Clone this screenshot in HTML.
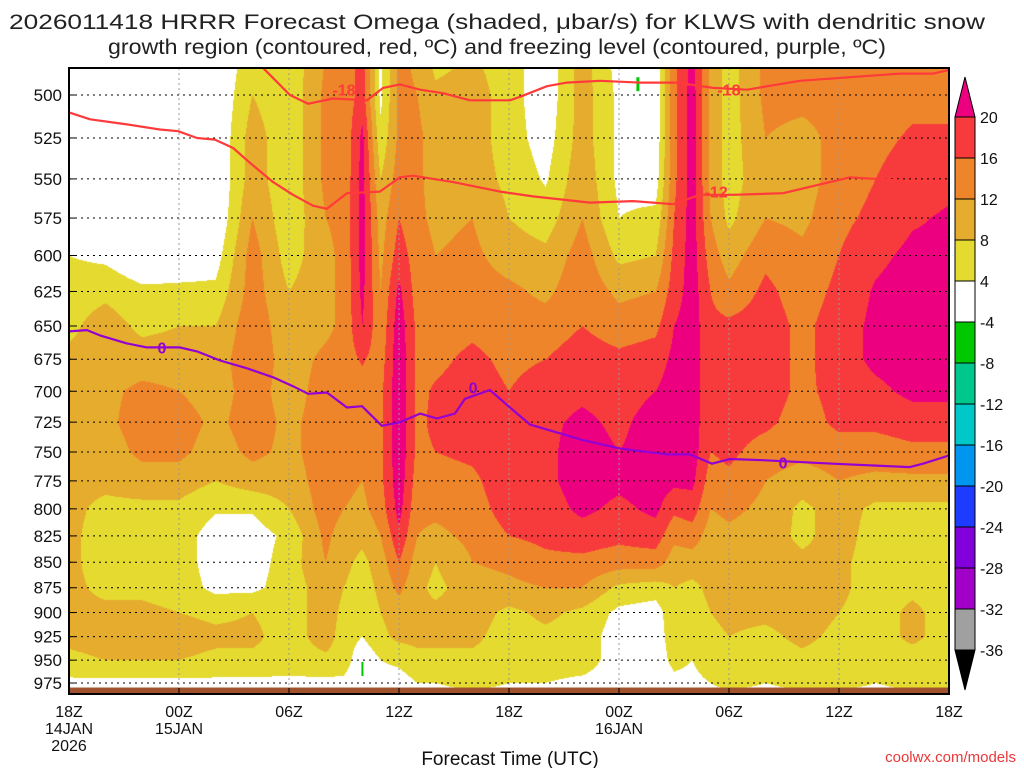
<!DOCTYPE html>
<html><head><meta charset="utf-8">
<style>
html,body{margin:0;padding:0;background:#fff;}
#wrap{position:relative;width:1024px;height:768px;overflow:hidden;font-family:"Liberation Sans",sans-serif;}
#hm{position:absolute;left:69px;top:68px;}
#ov{position:absolute;left:0;top:0;}
</style></head>
<body>
<div id="wrap">
<canvas id="hm" width="880" height="626"></canvas>
<svg id="ov" width="1024" height="768" xmlns="http://www.w3.org/2000/svg">
<g id="title" font-family="Liberation Sans, sans-serif" font-size="21" fill="#222" text-anchor="middle">
<text x="497" y="29" textLength="976" lengthAdjust="spacingAndGlyphs">2026011418 HRRR Forecast Omega (shaded, μbar/s) for KLWS with dendritic snow</text>
<text x="497" y="54" textLength="778" lengthAdjust="spacingAndGlyphs">growth region (contoured, red, ºC) and freezing level (contoured, purple, ºC)</text>
</g>
<g id="grid"></g>
<g id="lines"></g>
<g id="axes"></g>
<g id="cbar"></g>
<text x="510" y="765" font-size="19" text-anchor="middle" fill="#111">Forecast Time (UTC)</text>
<text x="1016" y="762" font-size="15" text-anchor="end" fill="#e8383a">coolwx.com/models</text>
</svg>
</div>
<script>
// ---- data ----
const times = [0,2,4,6,8,10,12,14,15,16,17,18,19,20,22,24,26,28,30,32,33,34,35,36,38,40,42,44,46,48];
const pressures = [475,500,525,550,575,600,625,650,675,700,725,750,775,800,825,850,875,900,925,950,975,1000];
const yTickLabels = [500,525,550,575,600,625,650,675,700,725,750,775,800,825,850,875,900,925,950,975];
const xTickHours = [0,6,12,18,24,30,36,42,48];
const xTickLabels = [["18Z","14JAN","2026"],["00Z","15JAN"],["06Z"],["12Z"],["18Z"],["00Z","16JAN"],["06Z"],["12Z"],["18Z"]];
const cbarLabels = [20,16,12,8,4,-4,-8,-12,-16,-20,-24,-28,-32,-36];
const surfacePressure = 980;
// omega (µbar/s) per time column, top (475) to bottom (1000)
const omega = [
/*0 */[0,0,0,0,0,4,6,7,9,9,9,9,9,9,9,9,9,9,9,7,3,2],
/*2 */[0,0,0,0,0,3,7,10,10,11,11,10,9,7,6,6,7,9,10,8,3,2],
/*4 */[0,0,0,0,0,0,5,7,10,13,14,13,10,7,6,6,7,9,10,8,3,2],
/*6 */[0,0,0,0,0,1,5,8,10,12,14,13,10,7,6,6,6,8,10,8,3,2],
/*8 */[0,0,0,0,0,2,5,8,10,10,11,10,8,4.5,2,2,3,7,9,7,3,2],
/*10*/[6,8,10,10,12,14,14,15,15,14,14,13,10,4.5,2,2,3,8,9,7,3,2],
/*12*/[5,5,5,5,5,6,8,9,10,10,11,11,10,8,5,6,6,6,6,6,3,2],
/*14*/[12,13,13,13,12,11,11,11,13,14,14,14,14,14,13,12,10,10,10,7,3,2],
/*15*/[13,13,13,13,13,13,13,13,14,14,14,14,13,12,10,9,8,7,6,6,3,2],
/*16*/[18,18,21,21.5,21.5,21.5,21,20,16.5,14,13,13,12,11,9,7,6,5,4,1,1,2],
/*17*/[3,3,5,8,10,11,12,13,14,15,15,15,15,14,12,10,9,8,7,4,2,2],
/*18*/[13,13,13,14,16,18,21,22.5,23,23,23,23,22.5,21.5,19,16,13,10,9,5,2,2],
/*19*/[11,12,13,13,13,14,14,15,15,15,15,15,14,13,12,10,9,9,9,7,4,2],
/*20*/[6,9,10,10,11,12,13,14,15,16.5,17,16,14,13,11,8,7,9,9,7,4,2],
/*22*/[8,10,10,10,12,13,14,15,17,18,18,17,15,14,13,12,10,10,9,7,5,2],
/*24*/[6,6,6,7,8,10,13,14,15,16,18,19,19,18,16,13,11,7,6,6,4,2],
/*26*/[1,1,2,3.5,6,9,11,14,16,18,19,19,19,18,17,15,12,9,7,6,4,1],
/*28*/[10,10,10,11,12,14,15,16,18,19,21,22,22,21,18,15,12,7,6,6,3,1],
/*30*/[2,3,3,3,4,7,11,14,17,18,19,20,21,19,17,14,7,3,2,2,2,1],
/*32*/[1,1,1,2,5,8,12,15,18,20,22,22,22,21,18,14,6,2,2,2,1,1],
/*33*/[15,15,15,15,16,17,18,20,21,22,22,21.5,21,17,13,10,8,7,6,5,3,2],
/*34*/[21,22,22,22,22,22,22,22,22,22,22,22,21,18,14,10,7,6,5,4,3,2],
/*35*/[11,11,11,11,12,14,16,17,17,17,17,16,14,12,10,10,9,8,7,6,4,2],
/*36*/[6,6,6,6,7,10,13,17,18,18,18,17,15,13,11,10,10,9,8,7,5,2],
/*38*/[13,13,12,11,12,15,17,18,18,18,17,14,12,11,10,10,10,9,7,6,4,2],
/*40*/[13,13,11,10,11,13,14,15,15,15,14,13,10,7,7,9,10,10,9,7,5,2],
/*42*/[13,13,13,14,15,16,17,18,18,17.5,17,14,12,10,10,9,9,8,7,6,5,2],
/*44*/[14,14,15,16,17,19,20.5,21,21,19,17,14,11,7,6,6,6,6,6,6,4,2],
/*46*/[14,15,16.5,18,19.5,21,22,22,22,21,18,15,11,7,6,6,7,9,9,6,5,2],
/*48*/[14,15,16.5,19,20.5,21,21,21,21,21,18,15,11,7,6,6,6,6,6,6,5,2]
];
// contour lines: [hour, pressure]
const dgzTopHours = [10.6,12.05,13.04,14.4,16.25,17.13,18.05,19.15,20.4,21.87,24.05,24.6,26.07,27.16,28.96,31.15,33.16,35.13,36.98,39.87,42.6,45.33,47.13,48];
const dgzTopPres  = [485,500,505,502,503,496,494,497,499,503,503,501,495,493,492,493,493,496,497,492,490,488,488,486];
const dgzBotHours = [0,1.15,3.16,4.96,5.95,6.98,7.96,8.95,9.87,11.13,12.22,13.31,14.07,15.16,16.96,18.05,18.76,20.95,23.51,25.31,28.42,30.76,32.95,34.42,36.22,38.95,42.6,45.33,48];
const dgzBotPres  = [510,514,517,520,521,525,526,531,540,552,560,567,569,559,558,549,548,552,558,561,565,564,566,560,560,559,549,551,552];
const frzHours = [0,0.98,1.69,3.16,4.25,6.05,6.98,8.24,9.71,11.13,12.22,13.04,14.07,15.16,15.98,17.07,18.05,19.15,20.07,21.05,21.6,22.96,24.05,25.15,28.04,30.05,32.62,33.87,35.07,36.05,37.85,41.67,45.87,46.58,48];
const frzPres  = [654,653,657,663,666,666,669,676,682,689,696,702,701,713,712,728,725,718,722,718,706,699,713,727,740,747,752,752,760,756,757,760,763,760,753];
const labelsRed = [["-18",15,497],["-18",36,497],["-12",35.3,558]];
const labelsPurple = [["0",5.07,666],["0",22.04,697],["0",38.95,759]];

// ---- scales ----
const X0=69, X1=949, Y0=68, Y1=694;
const xOf = h => X0 + h*(X1-X0)/48;
const yOf = p => 95 + 880.5*Math.log(p/500);
const NS="http://www.w3.org/2000/svg";
function mk(tag, attrs, parent){const e=document.createElementNS(NS,tag);for(const k in attrs)e.setAttribute(k,attrs[k]);parent.appendChild(e);return e;}

// ---- heatmap ----
const levels=[[20,[236,0,128]],[16,[247,59,61]],[12,[239,133,42]],[8,[229,172,46]],[4,[229,218,48]],[-4,[255,255,255]]];
(function(){
 const cv=document.getElementById('hm'),ctx=cv.getContext('2d');
 const W=cv.width,H=cv.height,img=ctx.createImageData(W,H);
 const nC=times.length,nR=pressures.length;
 const colIdx=[],colFr=[];
 for(let px=0;px<W;px++){
  const h=(px+0.5)*48/(X1-X0);
  let c=0;while(c<nC-2&&times[c+1]<=h)c++;
  colIdx.push(c);colFr.push(Math.max(0,Math.min(1,(h-times[c])/(times[c+1]-times[c]))));
 }
 for(let py=0;py<H;py++){
  const p=500*Math.exp((Y0+py+0.5-95)/880.5);
  let rf=(p-pressures[0])/(pressures[1]-pressures[0]);
  rf=Math.max(0,Math.min(nR-1.0001,rf));const r=Math.floor(rf),fr=rf-r;
  for(let px=0;px<W;px++){
   const c=colIdx[px],fc=colFr[px];
   const v=(omega[c][r]*(1-fc)+omega[c+1][r]*fc)*(1-fr)+(omega[c][r+1]*(1-fc)+omega[c+1][r+1]*fc)*fr;
   let col=[255,255,255];
   for(const [t,cc] of levels){if(v>=t){col=cc;break;}}
   const i=(py*W+px)*4;img.data[i]=col[0];img.data[i+1]=col[1];img.data[i+2]=col[2];img.data[i+3]=255;
  }
 }
 ctx.putImageData(img,0,0);
})();

// ---- grid ----
const grid=document.getElementById('grid');
const gnd=mk('rect',{x:X0,y:yOf(surfacePressure),width:X1-X0,height:Y1-yOf(surfacePressure),fill:'#a0522d'},grid);


for(const p of yTickLabels){
 const l=mk('line',{x1:X0,x2:X1,y1:yOf(p),y2:yOf(p),stroke:'#000','stroke-width':1,'stroke-dasharray':'2,4'},grid);
 
 
}
for(const h of xTickHours.slice(1,-1)){
 const l=mk('line',{x1:xOf(h),x2:xOf(h),y1:Y0,y2:Y1,stroke:'#999','stroke-width':1,'stroke-dasharray':'2,3'},grid);
 
 
}
const g1=mk('rect',{x:xOf(15.95),y:yOf(952),width:2,height:14,fill:'#00c800'},grid);


const g2=mk('rect',{x:xOf(30.95),y:yOf(490),width:3,height:14,fill:'#00c800'},grid);



// ---- contour lines ----
const lines=document.getElementById('lines');
function drawLine(hs,ps,color,name){
 const d=hs.map((h,i)=>(i?'L':'M')+xOf(h).toFixed(1)+','+yOf(ps[i]).toFixed(1)).join(' ');
 const e=mk('path',{d:d,fill:'none',stroke:color,'stroke-width':2.2,'stroke-linejoin':'round'},lines);
 
 
}
drawLine(dgzTopHours,dgzTopPres,'#ff3a3a','dgz-minus18-contour');
drawLine(dgzBotHours,dgzBotPres,'#ff3a3a','dgz-minus12-contour');
drawLine(frzHours,frzPres,'#9400d3','freezing-level-contour');
function drawLabels(arr,color,name){
 for(const [t,h,p] of arr){
  const e=mk('text',{x:xOf(h),y:yOf(p)+6,'font-size':16,'font-weight':'bold','text-anchor':'middle',fill:color},lines);
  e.textContent=t;
  
  
 }
}
drawLabels(labelsRed,'#ff3a3a','dgz-contour-label');
drawLabels(labelsPurple,'#9400d3','freezing-contour-label');

// ---- axes ----
const axes=document.getElementById('axes');
const frame=mk('rect',{x:X0,y:Y0,width:X1-X0,height:Y1-Y0,fill:'none',stroke:'#000','stroke-width':2},axes);


for(const p of yTickLabels){
 const t=mk('text',{x:62,y:yOf(p)+6,'font-size':17,'text-anchor':'end',fill:'#111'},axes);
 t.textContent=p;
 
 
 const k=mk('line',{x1:X0,x2:X0+6,y1:yOf(p),y2:yOf(p),stroke:'#000','stroke-width':1},axes);
 
 
}
xTickHours.forEach((h,i)=>{
 xTickLabels[i].forEach((s,j)=>{
  const t=mk('text',{x:xOf(h),y:717+j*17,'font-size':16,'text-anchor':'middle',fill:'#111'},axes);
  t.textContent=s;
  
  
 });
 const k=mk('line',{x1:xOf(h),x2:xOf(h),y1:Y1,y2:Y1-6,stroke:'#000','stroke-width':1},axes);
 
 
});

// ---- colorbar ----
const cbar=document.getElementById('cbar');
const cbColors=['#f73b3d','#ef852a','#e5ac2e','#e5da30','#ffffff','#00c800','#00c88c','#00c8c8','#0096f0','#1e3cff','#8200dc','#a000c8','#a0a0a0'];
const CB0=117, CBS=41, CBX=955, CBW=20;
const cbTop=mk('path',{d:`M${CBX},${CB0} L${CBX+CBW},${CB0} L${CBX+CBW/2},${CB0-40} Z`,fill:'#ec0080',stroke:'#000','stroke-width':1},cbar);


cbColors.forEach((c,i)=>{
 const r=mk('rect',{x:CBX,y:CB0+i*CBS,width:CBW,height:CBS,fill:c,stroke:'#000','stroke-width':1},cbar);
 
 
});
const yb=CB0+cbColors.length*CBS;
const cbBot=mk('path',{d:`M${CBX},${yb} L${CBX+CBW},${yb} L${CBX+CBW/2},${yb+40} Z`,fill:'#000',stroke:'#000','stroke-width':1},cbar);


cbarLabels.forEach((v,i)=>{
 const t=mk('text',{x:980,y:CB0+i*CBS+6,'font-size':16,fill:'#111'},cbar);
 t.textContent=v;
 
 
});
</script>
</body></html>
